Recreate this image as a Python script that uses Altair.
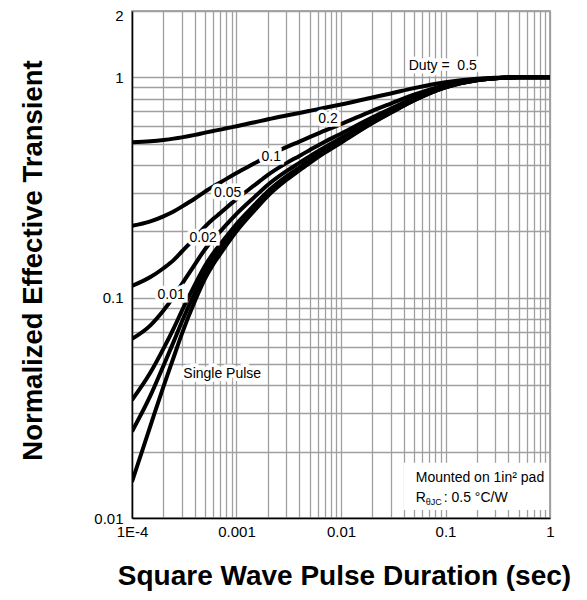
import altair as alt
import pandas as pd

# pulse durations (sec) sampled along the curves
t_vals = [1e-4, 1.5e-4, 2e-4, 2.5e-4, 3e-4, 4e-4, 5e-4, 6e-4, 7e-4, 8e-4,
          1e-3, 1.5e-3, 2e-3, 3e-3, 4e-3, 5e-3, 7e-3, 1e-2, 2e-2, 3e-2,
          5e-2, 0.1, 0.2, 0.3, 0.5, 1.0]

z_d50 = [0.507, 0.513, 0.520, 0.527, 0.534, 0.548, 0.561, 0.571, 0.579, 0.587,
         0.600, 0.625, 0.645, 0.671, 0.689, 0.704, 0.728, 0.753, 0.810, 0.845,
         0.893, 0.950, 0.985, 0.995, 1.0, 1.0]
z_d20 = [0.212, 0.222, 0.234, 0.246, 0.259, 0.282, 0.303, 0.320, 0.333, 0.346,
         0.368, 0.408, 0.440, 0.482, 0.511, 0.535, 0.573, 0.613, 0.705, 0.760,
         0.834, 0.922, 0.977, 0.992, 1.0, 1.0]
z_d10 = [0.113, 0.124, 0.136, 0.148, 0.162, 0.187, 0.210, 0.228, 0.242, 0.256,
         0.280, 0.325, 0.361, 0.408, 0.440, 0.467, 0.510, 0.555, 0.658, 0.721,
         0.807, 0.910, 0.973, 0.991, 1.0, 1.0]
z_d05 = [0.0650, 0.0749, 0.0875, 0.1008, 0.1151, 0.1417, 0.1659, 0.1849, 0.2001, 0.2144,
         0.240, 0.2875, 0.3255, 0.375, 0.409, 0.438, 0.482, 0.530, 0.639, 0.706,
         0.796, 0.905, 0.972, 0.991, 1.0, 1.0]
z_d02 = [0.0343, 0.0457, 0.0587, 0.0724, 0.0871, 0.1146, 0.1396, 0.1592, 0.1748, 0.1895,
         0.216, 0.265, 0.304, 0.355, 0.390, 0.420, 0.466, 0.515, 0.628, 0.696,
         0.789, 0.902, 0.971, 0.990, 1.0, 1.0]
z_d01 = [0.0247, 0.0359, 0.0491, 0.0630, 0.0778, 0.1055, 0.1308, 0.1506, 0.1664, 0.1813,
         0.208, 0.2575, 0.297, 0.349, 0.384, 0.414, 0.461, 0.510, 0.624, 0.693,
         0.787, 0.901, 0.970, 0.990, 1.0, 1.0]
z_single = [0.0146, 0.0262, 0.0395, 0.0535, 0.0685, 0.0965, 0.122, 0.142, 0.158, 0.173,
            0.200, 0.250, 0.290, 0.342, 0.378, 0.408, 0.455, 0.505, 0.620, 0.690,
            0.785, 0.900, 0.970, 0.990, 1.0, 1.0]

series = {"0.5": z_d50, "0.2": z_d20, "0.1": z_d10, "0.05": z_d05,
          "0.02": z_d02, "0.01": z_d01, "single": z_single}

# curve annotations
lab_text = ["Duty =\u00a0\u00a00.5", "0.2", "0.1", "0.05", "0.02", "0.01", "Single Pulse"]
lab_x = [0.0942, 0.0075, 0.00215, 8.24e-4, 4.8e-4, 2.37e-4, 7.3e-4]
lab_y = [1.122, 0.645, 0.435, 0.297, 0.1875, 0.1026, 0.0449]

# note box
note_line1 = "Mounted on 1in\u00b2 pad"
note_r = "R"
note_sub = "\u03b8JC"
note_rest = ": 0.5 \u00b0C/W"
note_x = [0.0519]
note_y1 = [0.0152]
note_y2 = [0.01233]
box_x = [0.0398]
box_x2 = [0.957]
box_y = [0.01087]
box_y2 = [0.0178]

x_grid = [round(k * 10 ** e, 10) for e in range(-4, 0) for k in range(1, 10)] + [1.0]
y_grid = [round(k * 10 ** e, 10) for e in (-2, -1) for k in range(1, 10)] + [1.0, 2.0]

rows = []
for name, vals in series.items():
    for tv, zv in zip(t_vals, vals):
        rows.append({"series": name, "t": tv, "z": zv})
df = pd.DataFrame(rows)
df_lab = pd.DataFrame({"text": lab_text, "t": lab_x, "z": lab_y})
df_box = pd.DataFrame({"t": box_x, "t2": box_x2, "z": box_y, "z2": box_y2})
df_n1 = pd.DataFrame({"t": note_x, "z": note_y1, "text": [note_line1]})
df_n2a = pd.DataFrame({"t": note_x, "z": note_y2, "text": [note_r]})
df_n2b = pd.DataFrame({"t": note_x, "z": note_y2, "text": [note_sub]})
df_n2c = pd.DataFrame({"t": note_x, "z": note_y2, "text": [note_rest]})

FONT = "Liberation Sans"
xscale = alt.Scale(type="log", domain=[1e-4, 1], nice=False)
yscale = alt.Scale(type="log", domain=[0.01, 2], nice=False)

x_axis = alt.Axis(
    values=x_grid,
    labelExpr="datum.value == 0.0001 ? '1E-4' : datum.value == 0.001 ? '0.001' : datum.value == 0.01 ? '0.01' : datum.value == 0.1 ? '0.1' : datum.value == 1 ? '1' : ''",
    title="Square Wave Pulse Duration (sec)",
    titleFont=FONT, titleFontSize=28, titleFontWeight="bold", titleColor="black",
    titleX=212, titleY=66, titleBaseline="alphabetic", titleAnchor="middle",
    labelFont=FONT, labelFontSize=15, labelColor="black", labelPadding=6,
    labelOverlap=False, labelFlush=False,
    ticks=False, grid=True, gridColor="#a0a0a0", gridWidth=1.3,
    domainColor="black", domainWidth=1.5,
)
y_axis = alt.Axis(
    values=y_grid,
    labelExpr="datum.value == 0.01 ? '0.01' : datum.value == 0.1 ? '0.1' : datum.value == 1 ? '1' : datum.value == 2 ? '2' : ''",
    labelOffset={"condition": {"test": "datum.value == 2", "value": 4}, "value": 0},
    title="Normalized Effective Transient",
    titleFont=FONT, titleFontSize=27.5, titleFontWeight="bold", titleColor="black",
    titleX=-91, titleY=249, titleBaseline="alphabetic", titleAngle=270,
    labelFont=FONT, labelFontSize=15, labelColor="black", labelPadding=9,
    labelOverlap=False, labelFlush=False,
    ticks=False, grid=True, gridColor="#a0a0a0", gridWidth=1.3,
    domainColor="black", domainWidth=1.5,
)

lines = alt.Chart(df).mark_line(
    color="black", strokeWidth=4, interpolate="monotone", clip=True
).encode(
    x=alt.X("t:Q", scale=xscale, axis=x_axis),
    y=alt.Y("z:Q", scale=yscale, axis=y_axis),
    detail="series:N",
)

halo = alt.Chart(df_lab).mark_text(
    font=FONT, fontSize=14, color="white", stroke="white", strokeWidth=7,
    align="center", baseline="middle"
).encode(x=alt.X("t:Q", scale=xscale), y=alt.Y("z:Q", scale=yscale), text="text:N")

labels = alt.Chart(df_lab).mark_text(
    font=FONT, fontSize=14, color="black", align="center", baseline="middle"
).encode(x=alt.X("t:Q", scale=xscale), y=alt.Y("z:Q", scale=yscale), text="text:N")

box = alt.Chart(df_box).mark_rect(color="white").encode(
    x=alt.X("t:Q", scale=xscale), x2="t2:Q",
    y=alt.Y("z:Q", scale=yscale), y2="z2:Q",
)

n1 = alt.Chart(df_n1).mark_text(
    font=FONT, fontSize=14, color="black", align="left", baseline="middle"
).encode(x=alt.X("t:Q", scale=xscale), y=alt.Y("z:Q", scale=yscale), text="text:N")
n2a = alt.Chart(df_n2a).mark_text(
    font=FONT, fontSize=14, color="black", align="left", baseline="middle"
).encode(x=alt.X("t:Q", scale=xscale), y=alt.Y("z:Q", scale=yscale), text="text:N")
n2b = alt.Chart(df_n2b).mark_text(
    font=FONT, fontSize=9, color="black", align="left", baseline="middle", dx=10, dy=4
).encode(x=alt.X("t:Q", scale=xscale), y=alt.Y("z:Q", scale=yscale), text="text:N")
n2c = alt.Chart(df_n2c).mark_text(
    font=FONT, fontSize=14, color="black", align="left", baseline="middle", dx=28
).encode(x=alt.X("t:Q", scale=xscale), y=alt.Y("z:Q", scale=yscale), text="text:N")

chart = alt.layer(lines, halo, labels, box, n1, n2a, n2b, n2c).properties(
    width=418, height=507,
    autosize=alt.AutoSizeParams(type="none"),
    padding={"left": 124, "top": 3, "right": 22, "bottom": 74},
).configure_view(stroke="#8a8a8a", strokeWidth=1.5)

chart.save("out.html", embed_options={"renderer": "svg", "actions": False})
